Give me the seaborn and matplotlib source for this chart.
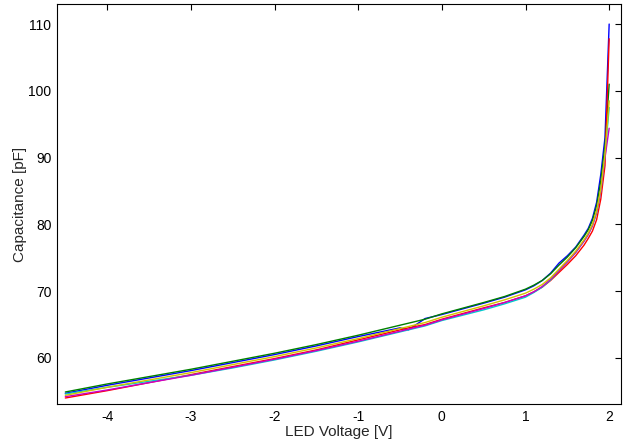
import pandas as pd
import seaborn as sns
import matplotlib
matplotlib.use("Agg")
import matplotlib.pyplot as plt

# LED voltage grid [V]
voltage = [-4.5, -4.0, -3.5, -3.0, -2.5, -2.0, -1.5, -1.0, -0.5, -0.4, -0.2, 0.0,
           0.5, 0.75, 1.0, 1.1, 1.2, 1.3, 1.4, 1.5, 1.6, 1.7, 1.75, 1.8, 1.85,
           1.9, 1.95, 2.0]

# capacitance [pF] per measurement run
cap_b = [54.7, 55.9, 57.0, 58.1, 59.3, 60.5, 61.8, 63.2, 64.5, 64.2, 65.9, 66.5,
         68.2, 69.1, 70.2, 70.8, 71.6, 72.7, 74.2, 75.3, 76.6, 78.4, 79.4, 80.9, 83.3,
         87.5, 93.0, 110.0]
cap_g = [54.9, 56.1, 57.2, 58.3, 59.5, 60.7, 62.0, 63.4, 64.9, 65.2, 65.8, 66.6,
         68.3, 69.2, 70.3, 70.9, 71.6, 72.6, 73.9, 75.1, 76.5, 78.2, 79.2, 80.6, 82.8,
         86.5, 91.8, 101.0]
cap_r = [54.0, 55.1, 56.3, 57.5, 58.7, 59.9, 61.2, 62.7, 64.2, 64.5, 65.0, 65.8,
         67.5, 68.3, 69.3, 69.9, 70.6, 71.6, 72.8, 74.0, 75.3, 76.9, 77.9, 79.0, 80.7,
         83.8, 88.8, 107.8]
cap_c = [54.6, 55.6, 56.5, 57.4, 58.5, 59.7, 61.0, 62.4, 63.9, 64.2, 64.8, 65.6,
         67.2, 68.1, 69.1, 69.8, 70.6, 71.7, 73.1, 74.4, 75.8, 77.5, 78.5, 79.8, 81.7,
         85.0, 90.3, 97.5]
cap_m = [54.2, 55.2, 56.3, 57.4, 58.6, 59.8, 61.1, 62.5, 64.0, 64.3, 64.9, 65.7,
         67.4, 68.3, 69.3, 69.9, 70.7, 71.8, 73.1, 74.4, 75.8, 77.5, 78.5, 79.8, 81.8,
         85.0, 90.0, 94.4]
cap_y = [54.4, 55.6, 56.7, 57.8, 59.0, 60.2, 61.5, 62.9, 64.4, 64.7, 65.3, 66.1,
         67.8, 68.7, 69.7, 70.3, 71.0, 72.0, 73.3, 74.6, 76.0, 77.7, 78.7, 80.0, 82.0,
         85.3, 90.5, 98.5]

runs = {"b": cap_b, "g": cap_g, "r": cap_r, "c": cap_c, "m": cap_m, "y": cap_y}
colors = {"b": "#0000ff", "g": "#008000", "r": "#ff0000",
          "c": "#00cccc", "m": "#c800c8", "y": "#d0c400"}

frames = []
for name, vals in runs.items():
    frames.append(pd.DataFrame({"V": voltage, "C": vals, "run": name}))
df = pd.concat(frames, ignore_index=True)

sns.set_style("white")
plt.rcParams['font.family'] = ['Liberation Sans', 'DejaVu Sans']
plt.rcParams['axes.unicode_minus'] = False

fig = plt.figure(figsize=(6.24, 4.48), dpi=100)
ax = fig.add_axes([0.0913, 0.0982, 0.9037, 0.8928])

sns.lineplot(data=df, x="V", y="C", hue="run", palette=colors, legend=False,
             linewidth=1.0, sort=False, estimator=None, ax=ax)

ax.set_xlim(-4.6, 2.14)
ax.set_ylim(53.1, 113)
ax.set_xticks([-4, -3, -2, -1, 0, 1, 2])
ax.set_yticks([60, 70, 80, 90, 100, 110])
ax.tick_params(direction='in', top=True, right=True, length=4, width=0.8,
               labelsize=10, colors='black', pad=4)
for s in ax.spines.values():
    s.set_color('black')
    s.set_linewidth(0.8)
ax.set_xlabel("LED Voltage [V]", fontsize=11, labelpad=1)
ax.set_ylabel("Capacitance [pF]", fontsize=11, labelpad=1)

fig.savefig("out.png", dpi=100)
